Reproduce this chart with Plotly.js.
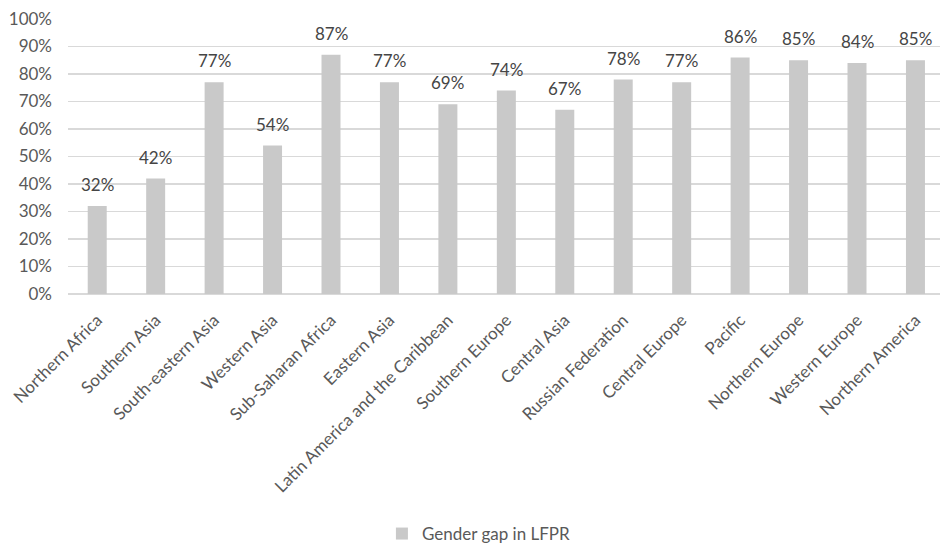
<!DOCTYPE html>
<html>
<head>
<meta charset="utf-8">
<script src="https://cdn.plot.ly/plotly-3.0.1.min.js"></script>
<style>
  html, body { margin: 0; padding: 0; background: #fff; overflow: hidden; }
  #chart { width: 940px; height: 552px; }
</style>
</head>
<body>
<div id="chart"></div>
<script>
// Regions, ordered as on the axis
const regions = [
  "Northern Africa", "Southern Asia", "South-eastern Asia", "Western Asia",
  "Sub-Saharan Africa", "Eastern Asia", "Latin America and the Caribbean",
  "Southern Europe", "Central Asia", "Russian Federation", "Central Europe",
  "Pacific", "Northern Europe", "Western Europe", "Northern America"
];

// Gender gap in labour force participation rate (share)
const gapLFPR = [0.32, 0.42, 0.77, 0.54, 0.87, 0.77, 0.69, 0.74, 0.67, 0.78, 0.77, 0.86, 0.85, 0.84, 0.85];

const seriesName = "Gender gap in LFPR";

const textColor = "#595959";
const fontFamily = "Lato, 'Open Sans', sans-serif";
const fontSize = 17;

const trace = {
  type: "bar",
  x: regions,
  y: gapLFPR,
  name: seriesName,
  marker: { color: "#c9c9c9" },
  hoverinfo: "x+y"
};

// Value labels sitting a little above each bar
const valueLabels = regions.map((r, i) => ({
  x: r,
  y: gapLFPR[i],
  xref: "x",
  yref: "y",
  text: Math.round(gapLFPR[i] * 100) + "%",
  showarrow: false,
  yanchor: "bottom",
  yshift: 9,
  font: { family: fontFamily, size: fontSize, color: "#454545" }
}));

const layout = {
  width: 940,
  height: 552,
  margin: { l: 68, r: 0, t: 19, b: 255 },
  paper_bgcolor: "#ffffff",
  plot_bgcolor: "#ffffff",
  bargap: 0.675,
  showlegend: true,
  legend: {
    orientation: "h",
    x: 0.36,
    xanchor: "left",
    y: -0.874,
    yanchor: "middle",
    font: { family: fontFamily, size: fontSize, color: textColor }
  },
  xaxis: {
    type: "category",
    range: [-0.5, 14.42],
    tickangle: -45,
    ticks: "",
    showgrid: false,
    showline: false,
    zeroline: false,
    ticklabelstandoff: 12,
    tickfont: { family: fontFamily, size: fontSize, color: textColor },
    automargin: false
  },
  yaxis: {
    range: [0, 1],
    dtick: 0.1,
    tickformat: ".0%",
    showgrid: true,
    gridcolor: "#d9d9d9",
    gridwidth: 1.6,
    zeroline: true,
    zerolinecolor: "#d9d9d9",
    zerolinewidth: 1.6,
    showline: false,
    ticks: "",
    ticklabelstandoff: 15,
    tickfont: { family: fontFamily, size: fontSize, color: textColor },
    automargin: false
  },
  annotations: valueLabels
};

Plotly.newPlot("chart", [trace], layout, { displayModeBar: false, staticPlot: true });
</script>
</body>
</html>
